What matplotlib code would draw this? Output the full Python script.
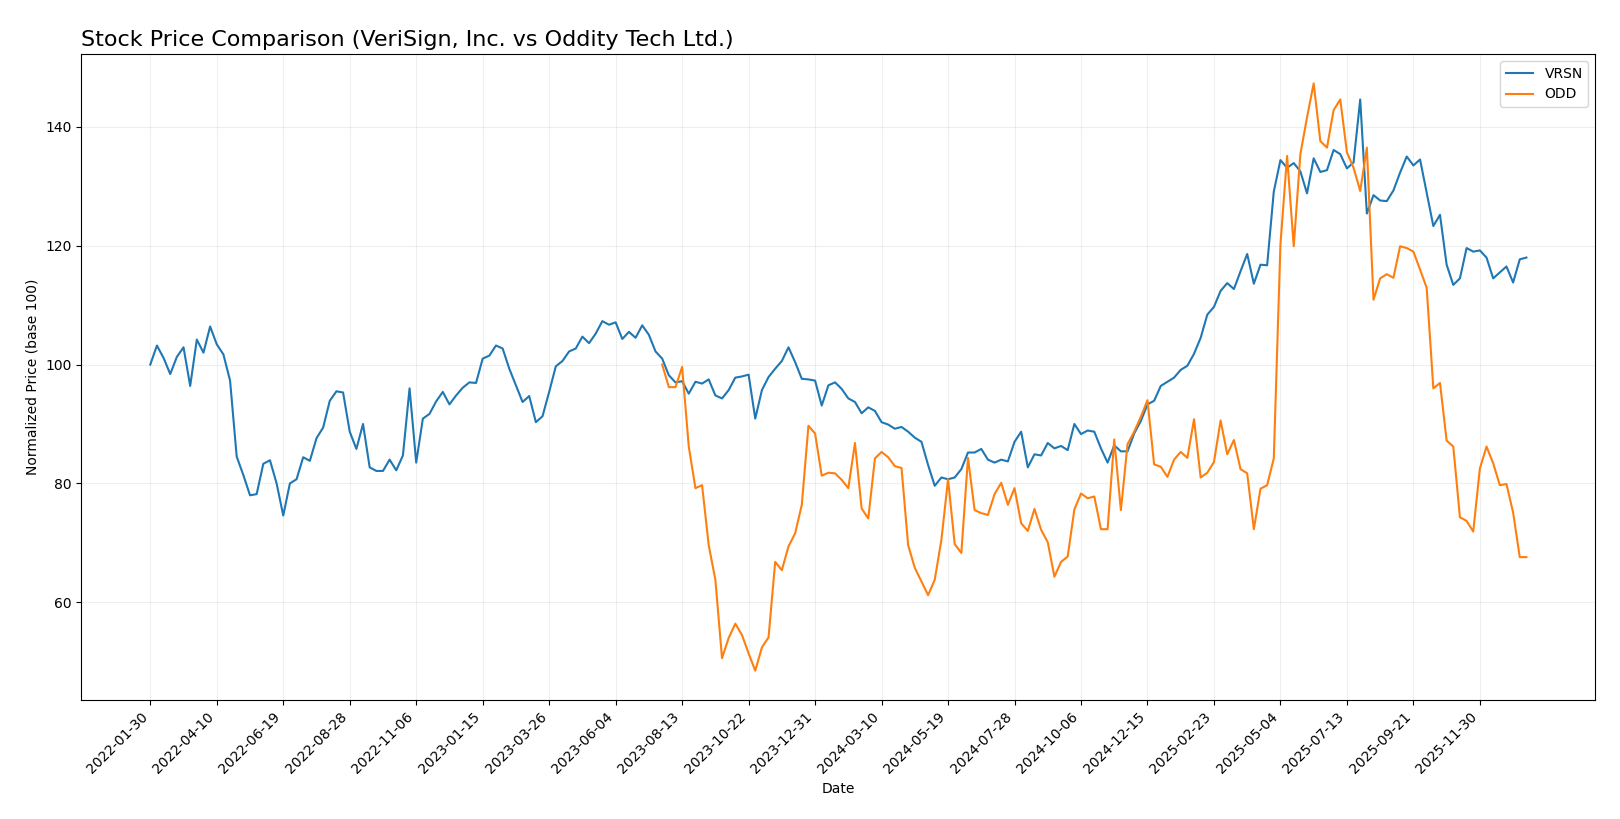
import matplotlib
matplotlib.use("Agg")
import matplotlib.pyplot as plt
import pandas as pd

# weekly closes, normalised to 100 at the first week of each series
start_date = "2022-01-30"
n_weeks = 208
odd_start_week = 77  # Oddity Tech listed in July 2023

vrsn = [
    100.0, 103.2, 101.1, 98.4, 101.3, 102.9, 96.4, 104.2, 102.0, 106.4,
    103.4, 101.7, 97.3, 84.5, 81.4, 78.0, 78.2, 83.3, 83.9, 80.0,
    74.6, 80.0, 80.7, 84.4, 83.8, 87.6, 89.4, 93.9, 95.5, 95.3,
    88.7, 85.8, 90.0, 82.7, 82.1, 82.1, 84.0, 82.2, 84.7, 96.0,
    83.5, 90.9, 91.7, 93.8, 95.4, 93.3, 94.8, 96.1, 97.0, 96.9,
    101.0, 101.5, 103.2, 102.7, 99.3, 96.5, 93.7, 94.7, 90.3, 91.3,
    95.4, 99.7, 100.6, 102.2, 102.7, 104.7, 103.6, 105.2, 107.3, 106.7,
    107.1, 104.3, 105.5, 104.5, 106.6, 105.0, 102.2, 101.0, 98.2, 97.0,
    97.2, 95.1, 97.1, 96.8, 97.5, 94.8, 94.3, 95.7, 97.8, 98.0,
    98.3, 90.9, 95.7, 97.9, 99.3, 100.6, 102.9, 100.4, 97.6, 97.5,
    97.3, 93.1, 96.5, 97.0, 95.9, 94.3, 93.7, 91.8, 92.8, 92.2,
    90.3, 89.9, 89.2, 89.5, 88.7, 87.7, 87.0, 83.1, 79.6, 81.0,
    80.7, 81.0, 82.4, 85.2, 85.2, 85.8, 84.0, 83.5, 84.0, 83.7,
    87.0, 88.7, 82.7, 84.9, 84.7, 86.8, 85.9, 86.3, 85.6, 90.0,
    88.3, 88.9, 88.7, 85.9, 83.5, 86.4, 85.4, 85.4, 88.4, 90.5,
    93.3, 93.9, 96.4, 97.1, 97.8, 99.1, 99.8, 101.8, 104.5, 108.4,
    109.7, 112.4, 113.7, 112.7, 115.7, 118.6, 113.6, 116.8, 116.7, 129.1,
    134.4, 133.1, 133.9, 132.5, 128.8, 134.7, 132.4, 132.7, 136.1, 135.4,
    133.0, 134.0, 144.6, 125.4, 128.5, 127.6, 127.5, 129.3, 132.3, 135.0,
    133.5, 134.5, 128.9, 123.3, 125.2, 116.8, 113.4, 114.5, 119.6, 119.0,
    119.2, 118.0, 114.5, 115.5, 116.5, 113.8, 117.7, 118.0,
]

odd = [
    100.0, 96.2, 96.2, 99.6, 86.2, 79.2, 79.7, 69.6, 63.8, 50.6,
    54.0, 56.4, 54.5, 51.4, 48.5, 52.4, 54.1, 66.8, 65.4, 69.4,
    71.6, 76.4, 89.7, 88.4, 81.3, 81.8, 81.7, 80.6, 79.2, 86.8,
    75.8, 74.1, 84.2, 85.3, 84.4, 82.9, 82.6, 69.6, 65.8, 63.5,
    61.2, 63.8, 70.5, 80.7, 69.8, 68.3, 84.3, 75.5, 75.0, 74.7,
    78.2, 80.1, 76.4, 79.2, 73.3, 72.0, 75.7, 72.2, 70.1, 64.3,
    66.8, 67.7, 75.6, 78.3, 77.5, 77.8, 72.3, 72.3, 87.4, 75.5,
    86.6, 88.7, 91.2, 94.0, 83.2, 82.8, 81.1, 84.0, 85.3, 84.3,
    90.8, 81.0, 81.8, 83.6, 90.6, 84.9, 87.3, 82.4, 81.7, 72.3,
    79.1, 79.7, 84.2, 120.2, 135.1, 119.9, 135.4, 141.6, 147.3, 137.6,
    136.5, 142.8, 144.6, 135.7, 133.1, 129.2, 136.5, 110.9, 114.5, 115.2,
    114.6, 119.9, 119.6, 119.0, 116.0, 112.9, 96.0, 96.9, 87.2, 86.2,
    74.3, 73.7, 71.9, 82.5, 86.2, 83.4, 79.7, 79.9, 75.1, 67.6,
    67.6,
]

dates = pd.date_range(start_date, periods=n_weeks, freq="7D")
odd_dates = dates[odd_start_week:]

fig = plt.figure(figsize=(16.2, 8.19), dpi=100)
ax = fig.add_axes([0.0503, 0.1453, 0.9344, 0.7887])

ax.plot(dates, vrsn, label="VRSN", color="tab:blue", linewidth=1.5)
ax.plot(odd_dates, odd, label="ODD", color="tab:orange", linewidth=1.5)

# a tick every 10 weeks, like the original
tick_dates = dates[::10]
ax.set_xticks(tick_dates)
ax.set_xticklabels([d.strftime("%Y-%m-%d") for d in tick_dates], rotation=45, ha="right")

ax.set_title("Stock Price Comparison (VeriSign, Inc. vs Oddity Tech Ltd.)", loc="left", fontsize=16)
ax.set_xlabel("Date")
ax.set_ylabel("Normalized Price (base 100)")
ax.grid(True, alpha=0.2)
ax.legend(loc="upper right")

fig.savefig("out.png", dpi=100)
